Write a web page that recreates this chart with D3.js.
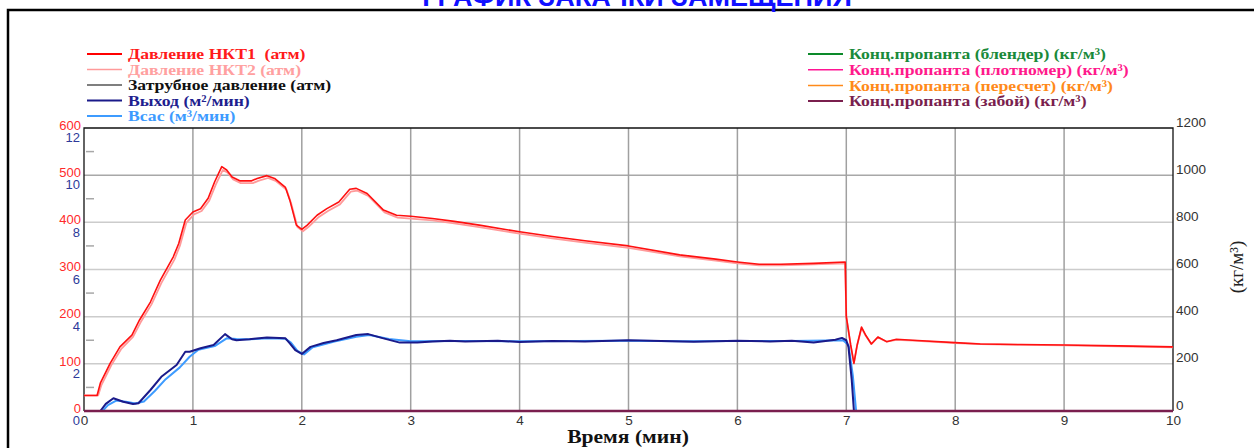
<!DOCTYPE html>
<html>
<head>
<meta charset="utf-8">
<script src="https://cdn.jsdelivr.net/npm/d3@7"></script>
<style>
  html, body { margin: 0; padding: 0; background: #fff; }
  svg { display: block; }
  text.keep { white-space: pre; }
</style>
</head>
<body>
<svg id="chart" width="1254" height="448"></svg>
<script>
// ---- data ----
const chartTitle = "ГРАФИК ЗАКАЧКИ ЗАМЕЩЕНИЯ";
const xTitle = "Время (мин)";
const rightTitle = "(кг/м³)";

const xTicks = [0, 1, 2, 3, 4, 5, 6, 7, 8, 9, 10];
const pressureTicks = [0, 100, 200, 300, 400, 500, 600];
const pressureMinorTicks = [50, 150, 250, 350, 450, 550];
const flowTicks = [0, 2, 4, 6, 8, 10, 12];
const concTicks = [0, 200, 400, 600, 800, 1000, 1200];

// tubing pressure 1 (atm)
const timeP1 = [0, 0.12, 0.15, 0.24, 0.33, 0.44, 0.51, 0.61, 0.70, 0.82, 0.87, 0.93, 1.0, 1.07, 1.14, 1.20, 1.265, 1.31, 1.36, 1.43, 1.54, 1.59, 1.68, 1.75, 1.85, 1.89, 1.95, 2.0, 2.05, 2.14, 2.23, 2.34, 2.44, 2.50, 2.60, 2.75, 2.87, 3.0, 3.2, 3.4, 3.63, 4.0, 4.3, 4.6, 5.0, 5.47, 5.8, 6.0, 6.2, 6.4, 6.7, 6.99, 7.0, 7.04, 7.07, 7.1, 7.14, 7.18, 7.23, 7.29, 7.37, 7.46, 7.61, 8.0, 8.23, 8.6, 9.0, 9.5, 10.0];
const pressure1 = [33, 33, 59, 101, 136, 161, 193, 231, 277, 327, 355, 405, 422, 429, 451, 486, 518, 511, 496, 488, 488, 493, 499, 493, 474, 447, 394, 385, 394, 415, 429, 443, 470, 472, 461, 426, 415, 413, 408, 402, 394, 380, 370, 361, 350, 331, 322, 316, 311, 311, 313, 316, 200, 140, 101, 140, 178, 160, 142, 157, 147, 152, 150, 145, 142, 141, 140, 138, 136];

// tubing pressure 2 (atm)
const timeP2 = [0, 0.13, 0.16, 0.25, 0.34, 0.45, 0.52, 0.62, 0.71, 0.83, 0.88, 0.94, 1.01, 1.08, 1.15, 1.21, 1.275, 1.32, 1.37, 1.44, 1.55, 1.60, 1.69, 1.76, 1.86, 1.90, 1.96, 2.01, 2.06, 2.15, 2.24, 2.35, 2.45, 2.51, 2.61, 2.76, 2.88, 3.0, 3.2, 3.4, 3.63, 4.0, 4.3, 4.6, 5.0, 5.47, 5.8, 6.0, 6.2, 6.4, 6.7, 6.99, 7.0, 7.04, 7.07, 7.1, 7.14, 7.18, 7.23, 7.29, 7.37, 7.46, 7.61, 8.0, 8.23, 8.6, 9.0, 9.5, 10.0];
const pressure2 = [33, 33, 55, 97, 131, 157, 188, 226, 271, 321, 350, 399, 417, 424, 446, 480, 511, 505, 491, 483, 483, 488, 494, 488, 469, 442, 390, 381, 390, 410, 424, 438, 465, 467, 456, 421, 410, 408, 404, 398, 390, 376, 366, 357, 346, 328, 319, 313, 309, 309, 311, 313, 200, 140, 102, 140, 176, 159, 142, 156, 147, 151, 149, 144, 142, 140, 139, 137, 135];

// outlet rate (m³/min)
const timeOut = [0, 0.15, 0.2, 0.27, 0.36, 0.45, 0.5, 0.61, 0.71, 0.85, 0.93, 0.97, 1.07, 1.19, 1.295, 1.36, 1.40, 1.52, 1.68, 1.85, 1.89, 1.94, 2.0, 2.08, 2.2, 2.32, 2.5, 2.61, 2.75, 2.9, 3.06, 3.2, 3.36, 3.5, 3.8, 4.0, 4.3, 4.6, 5.0, 5.3, 5.6, 6.0, 6.3, 6.5, 6.7, 6.9, 6.96, 7.0, 7.02, 7.05, 7.07];
const outletRate = [0, 0, 0.3, 0.54, 0.39, 0.30, 0.33, 0.89, 1.45, 1.95, 2.51, 2.51, 2.66, 2.8, 3.26, 3.04, 3.0, 3.04, 3.12, 3.08, 2.87, 2.58, 2.42, 2.72, 2.88, 3.0, 3.22, 3.26, 3.08, 2.9, 2.9, 2.95, 2.98, 2.95, 2.98, 2.93, 2.97, 2.95, 3.0, 2.97, 2.94, 2.98, 2.95, 2.98, 2.9, 3.02, 3.1, 3.0, 2.72, 1.31, 0];

// suction rate (m³/min)
const timeIn = [0, 0.17, 0.22, 0.3, 0.4, 0.47, 0.55, 0.65, 0.75, 0.88, 0.97, 1.05, 1.2, 1.31, 1.4, 1.52, 1.7, 1.85, 1.9, 1.96, 2.02, 2.1, 2.3, 2.5, 2.62, 2.8, 3.0, 3.5, 4.0, 4.5, 5.0, 5.5, 6.0, 6.5, 6.97, 7.02, 7.06, 7.09];
const suctionRate = [0, 0, 0.25, 0.45, 0.38, 0.32, 0.4, 0.85, 1.35, 1.85, 2.3, 2.6, 2.75, 3.08, 3.05, 3.04, 3.08, 3.06, 2.9, 2.55, 2.4, 2.7, 2.95, 3.15, 3.22, 3.05, 2.96, 2.97, 2.96, 2.97, 2.98, 2.96, 2.97, 2.97, 3.0, 2.8, 1.5, 0];

// annulus pressure and proppant concentrations stay at zero
const timeFlat = [0, 10];
const annulusPressure = [0, 0];
const concBlender = [0, 0];
const concDensimeter = [0, 0];
const concCalculated = [0, 0];
const concBottomhole = [0, 0];

const leftLegend = [
  { name: "Давление НКТ1  (атм)", color: "#ff0000", text: "#ff1a1a", w: 2 },
  { name: "Давление НКТ2 (атм)", color: "#ff9a9a", text: "#ffa0a0", w: 1.5 },
  { name: "Затрубное давление (атм)", color: "#000000", text: "#111111", w: 1.2 },
  { name: "Выход (м²/мин)", color: "#1a1a8a", text: "#1f1f8f", w: 2 },
  { name: "Всас (м³/мин)", color: "#3d9bff", text: "#3d9bff", w: 2 }
];
const rightLegend = [
  { name: "Конц.пропанта (блендер) (кг/м³)", color: "#0c8a2a", text: "#1a8a3a", w: 2 },
  { name: "Конц.пропанта (плотномер) (кг/м³)", color: "#ff1493", text: "#ff1a8c", w: 1.5 },
  { name: "Конц.пропанта (пересчет) (кг/м³)", color: "#ff8a1a", text: "#ff8a1a", w: 1.5 },
  { name: "Конц.пропанта (забой) (кг/м³)", color: "#7a1f4e", text: "#7a1f4e", w: 2 }
];

// ---- layout ----
const svg = d3.select("#chart");
const plot = { left: 84, right: 1173, top: 128, bottom: 411 };

const x = d3.scaleLinear().domain([0, 10]).range([plot.left, plot.right]);
const yP = d3.scaleLinear().domain([0, 600]).range([plot.bottom, plot.top]);
const yQ = d3.scaleLinear().domain([0, 12]).range([plot.bottom, plot.top]);
const yC = d3.scaleLinear().domain([0, 1200]).range([plot.bottom, plot.top]);

const sans = "'Liberation Sans', Arial, sans-serif";
const serif = "'Liberation Serif', 'Times New Roman', serif";

// outer frame
svg.append("path")
  .attr("d", "M8,448 L8,10 L1254,10")
  .attr("fill", "none").attr("stroke", "#000").attr("stroke-width", 2.5);

// title (sits just above the frame)
svg.append("text")
  .attr("x", 637).attr("y", 6)
  .attr("text-anchor", "middle")
  .attr("font-family", sans).attr("font-weight", "bold").attr("font-size", 27)
  .attr("fill", "#1010ff")
  .text(chartTitle);

// grid
const grid = svg.append("g");
grid.selectAll("line.h").data(pressureTicks.filter(d => d > 0 && d < 600)).join("line")
  .attr("x1", plot.left).attr("x2", plot.right)
  .attr("y1", d => yP(d)).attr("y2", d => yP(d))
  .attr("stroke", d => d === 500 ? "#a8a8a8" : "#cccccc").attr("stroke-width", 1.5);
grid.selectAll("line.v").data(xTicks.filter(d => d > 0 && d < 10)).join("line")
  .attr("x1", d => x(d)).attr("x2", d => x(d))
  .attr("y1", plot.top).attr("y2", plot.bottom)
  .attr("stroke", "#a0a0a0").attr("stroke-width", 1.5);
grid.selectAll("line.m").data(pressureMinorTicks).join("line")
  .attr("x1", plot.left + 2).attr("x2", plot.left + 10)
  .attr("y1", d => yP(d)).attr("y2", d => yP(d))
  .attr("stroke", "#a8a8a8").attr("stroke-width", 1.5);

// plot border (top, left, right)
svg.append("path")
  .attr("d", `M${plot.left},${plot.bottom} L${plot.left},${plot.top} L${plot.right},${plot.top} L${plot.right},${plot.bottom}`)
  .attr("fill", "none").attr("stroke", "#111").attr("stroke-width", 1.3);

// series
svg.append("clipPath").attr("id", "plotClip")
  .append("rect").attr("x", plot.left).attr("y", plot.top - 2)
  .attr("width", plot.right - plot.left).attr("height", plot.bottom - plot.top + 4);

const series = svg.append("g").attr("clip-path", "url(#plotClip)");
function drawLine(times, values, yScale, color, width) {
  const pts = times.map((t, i) => [t, values[i]]);
  series.append("path")
    .datum(pts)
    .attr("fill", "none")
    .attr("stroke", color)
    .attr("stroke-width", width)
    .attr("stroke-linejoin", "round")
    .attr("d", d3.line().x(d => x(d[0])).y(d => yScale(d[1])));
}

drawLine(timeP2, pressure2, yP, "#ff9a9a", 1.8);
drawLine(timeP1, pressure1, yP, "#ff1010", 1.6);
drawLine(timeIn, suctionRate, yQ, "#3d9bff", 2);
drawLine(timeOut, outletRate, yQ, "#1a1a8a", 2);
drawLine(timeFlat, annulusPressure, yP, "#000000", 1.5);
drawLine(timeFlat, concBlender, yC, "#0c8a2a", 2);
drawLine(timeFlat, concDensimeter, yC, "#ff1493", 2);
drawLine(timeFlat, concCalculated, yC, "#ff8a1a", 2);
drawLine(timeFlat, concBottomhole, yC, "#7a1f4e", 2.5);

// axes
const axisX = svg.append("g")
  .attr("transform", `translate(0,${plot.bottom})`)
  .call(d3.axisBottom(x).tickValues(xTicks).tickSize(0).tickPadding(4).tickFormat(d3.format("d")));
axisX.select(".domain").remove();
axisX.selectAll("text").attr("font-family", sans).attr("font-size", 13.5).attr("fill", "#333");

// pressure labels sit a little above each gridline, flow labels just below
const axisP = svg.append("g")
  .attr("transform", `translate(${plot.left - 3},0)`)
  .call(d3.axisLeft(yP).tickValues(pressureTicks).tickSize(0).tickPadding(0).tickFormat(d3.format("d")));
axisP.select(".domain").remove();
axisP.selectAll("text").attr("font-family", sans).attr("font-size", 13)
  .attr("fill", "#ff2a2a").attr("dy", 1.2);

const axisQ = svg.append("g")
  .attr("transform", `translate(${plot.left - 4},0)`)
  .call(d3.axisLeft(yQ).tickValues(flowTicks).tickSize(0).tickPadding(0).tickFormat(d3.format("d")));
axisQ.select(".domain").remove();
axisQ.selectAll("text").attr("font-family", sans).attr("font-size", 13)
  .attr("fill", "#2d3a9a").attr("dy", 13.8);

const axisC = svg.append("g")
  .attr("transform", `translate(${plot.right + 3},0)`)
  .call(d3.axisRight(yC).tickValues(concTicks).tickSize(0).tickPadding(0).tickFormat(d3.format("d")));
axisC.select(".domain").remove();
axisC.selectAll("text").attr("font-family", sans).attr("font-size", 13.5)
  .attr("fill", "#333").attr("dy", -2);

// bottom baseline
svg.append("line")
  .attr("x1", plot.left).attr("x2", plot.right)
  .attr("y1", plot.bottom).attr("y2", plot.bottom)
  .attr("stroke", "#7a1f4e").attr("stroke-width", 2);

// axis titles
svg.append("text")
  .attr("transform", "translate(628,443) scale(1.2,1)")
  .attr("text-anchor", "middle")
  .attr("font-family", serif).attr("font-weight", "bold").attr("font-size", 18)
  .attr("fill", "#111")
  .text(xTitle);

svg.append("text")
  .attr("transform", "translate(1243,267) rotate(-90)")
  .attr("text-anchor", "middle")
  .attr("font-family", serif).attr("font-size", 19)
  .attr("fill", "#222")
  .text(rightTitle);

// legends
function drawLegend(items, x0, y0, step) {
  const g = svg.append("g");
  items.forEach((it, i) => {
    const yy = y0 + i * step;
    g.append("line")
      .attr("x1", x0).attr("x2", x0 + 35)
      .attr("y1", yy).attr("y2", yy)
      .attr("stroke", it.color).attr("stroke-width", it.w);
    g.append("text")
      .attr("class", "keep")
      .attr("transform", `translate(${x0 + 41},${yy}) scale(1.14,1)`)
      .attr("dy", "0.33em")
      .attr("font-family", serif).attr("font-weight", "bold").attr("font-size", 15.5)
      .attr("fill", it.text)
      .text(it.name);
  });
}
drawLegend(leftLegend, 87, 54, 15.5);
drawLegend(rightLegend, 808, 54, 15.7);
</script>
</body>
</html>
